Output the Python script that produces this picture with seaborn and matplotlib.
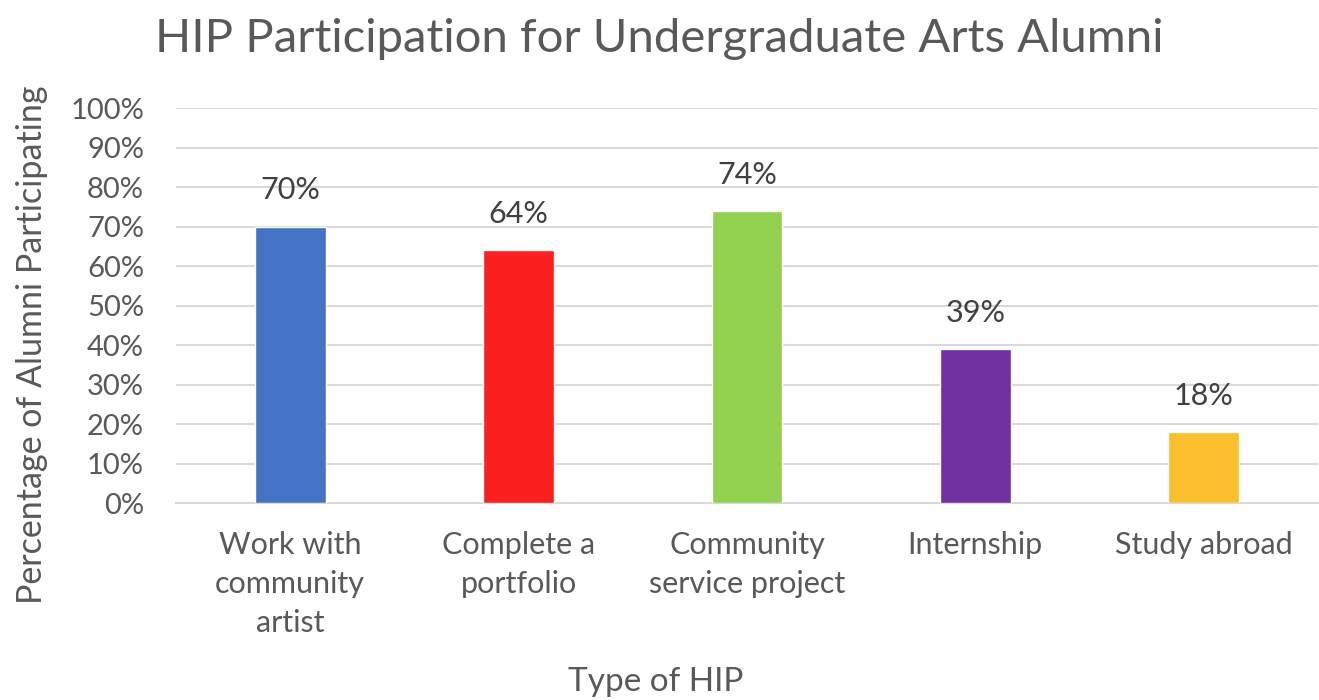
import matplotlib
matplotlib.use("Agg")
import matplotlib.pyplot as plt
import seaborn as sns
import pandas as pd
from matplotlib.ticker import PercentFormatter

categories = ["Work with\ncommunity\nartist", "Complete a\nportfolio", "Community\nservice project", "Internship", "Study abroad"]
values = [70, 64, 74, 39, 18]
colors = ["#4472C4", "#FC1F1F", "#92D050", "#7030A0", "#FBBF2D"]
title = "HIP Participation for Undergraduate Arts Alumni"
xlabel = "Type of HIP"
ylabel = "Percentage of Alumni Participating"

sns.set_theme(style="white")
plt.rcParams["font.family"] = ["Lato", "DejaVu Sans"]
text_color = "#595959"

df = pd.DataFrame({"cat": categories, "val": values})

fig = plt.figure(figsize=(13.19, 7.0), dpi=100)
ax = fig.add_axes([0.1334, 0.2814, 0.8658, 0.5643])

sns.barplot(data=df, x="cat", y="val", hue="cat", palette=colors, legend=False,
            width=0.31, ax=ax, zorder=3, saturation=1)

ax.set_ylim(0, 100)
ax.set_xlim(-0.5, 4.5)
ax.set_yticks(range(0, 101, 10))
ax.yaxis.set_major_formatter(PercentFormatter(decimals=0))
ax.grid(axis="y", color="#D9D9D9", linewidth=1.5, zorder=0)
for s in ["top", "right", "left"]:
    ax.spines[s].set_visible(False)
ax.spines["bottom"].set_color("#D9D9D9")
ax.spines["bottom"].set_linewidth(1.5)
ax.tick_params(axis="y", length=0, labelsize=21, colors=text_color, pad=23)
ax.tick_params(axis="x", length=0, labelsize=22, colors=text_color, pad=20)
for lbl in ax.get_xticklabels():
    lbl.set_linespacing(1.49)

for i, v in enumerate(values):
    ax.annotate(f"{v}%", (i, v), xytext=(0, 26), textcoords="offset points",
                ha="center", va="center", fontsize=22, color="#404040")

ax.set_xlabel(xlabel, fontsize=24, color=text_color)
ax.xaxis.set_label_coords(0.42, -0.415)
ax.set_ylabel(ylabel, fontsize=24.5, color=text_color)
ax.yaxis.set_label_coords(-0.112, 0.40)
fig.suptitle(title, fontsize=34, color=text_color, x=0.50, y=0.945, va="center")

fig.savefig("out.png", dpi=100)
